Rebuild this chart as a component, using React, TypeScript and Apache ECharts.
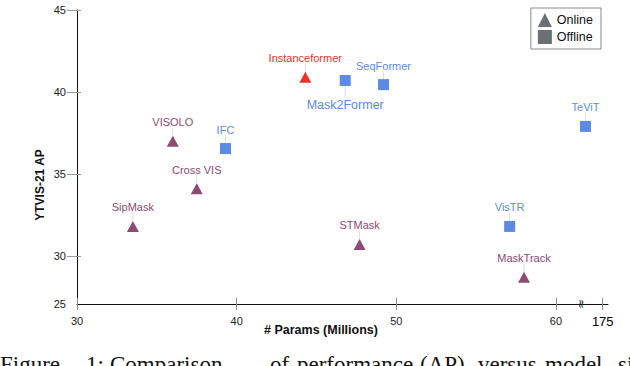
import React, { useEffect, useRef } from "react";
import * as echarts from "echarts";

// Online (triangle) methods
const onlineNames = ["Instanceformer", "VISOLO", "Cross VIS", "SipMask", "STMask", "MaskTrack"];
const onlineParams = [44.3, 36.0, 37.5, 33.5, 47.7, 58.0];
const onlineAP = [40.9, 37.0, 34.1, 31.8, 30.7, 28.7];

// Offline (square) methods
const offlineNames = ["IFC", "Mask2Former", "SeqFormer", "VisTR", "TeViT"];
const offlineParams = [39.3, 46.8, 49.2, 57.1, 61.85];
const offlineAP = [36.55, 40.7, 40.45, 31.8, 37.9];

// Axis ticks (axes are broken: "25" on y and "175" on x are drawn at break positions)
const yTickValues = [30, 35, 40, 45];
const yAxisMin = 27.07;
const yAxisMax = 45;
const yBreakLabel = "25";
const xTickValues = [30, 40, 50, 60];
const xBreakValue = 62.93;
const xBreakLabel = "175";
const xAxisMin = 30;
const xAxisMax = 63.26;

const legendNames = ["Online", "Offline"];
const captionWords = ["Figure", "1:", "Comparison", "of", "performance", "(AP)", "versus", "model", "si"];
const captionX = [0, 86, 110, 270, 297, 420, 478, 545, 618];

const RED = "#e8332b";
const PURPLE = "#8e4a74";
const BLUE = "#5b8be2";
const GRAY = "#6b7077";
const LABEL_FONT = "'Liberation Sans', Arial, sans-serif";

export default function App() {
  const ref = useRef<HTMLDivElement>(null);

  useEffect(() => {
    if (!ref.current) return;
    const chart = echarts.init(ref.current, null, { renderer: "svg" });

    const onlineData = onlineNames.map((n, i) => ({
      name: n,
      value: [onlineParams[i], onlineAP[i]],
      itemStyle: { color: n === "Instanceformer" ? RED : PURPLE },
      label: { color: n === "Instanceformer" ? RED : PURPLE },
    }));
    const offlineData = offlineNames.map((n, i) => ({
      name: n,
      value: [offlineParams[i], offlineAP[i]],
      itemStyle: { color: BLUE },
      label:
        n === "Mask2Former"
          ? { color: BLUE, position: "bottom", fontSize: 12.5 }
          : { color: BLUE },
    }));

    const labelBase = {
      show: true,
      formatter: "{b}",
      position: "top",
      distance: 2,
      fontSize: 11,
      fontFamily: LABEL_FONT,
    };
    const labelLine = { show: true, lineStyle: { color: "#dedede", width: 1 } };

    const allXTicks = [...xTickValues, xBreakValue];
    const allYLabels = [yAxisMin, ...yTickValues];

    const option: any = {
      animation: false,
      backgroundColor: "#ffffff",
      grid: { left: 77, right: 22, top: 10, bottom: 62, containLabel: false },
      legend: {
        data: [
          { name: legendNames[0], icon: "triangle" },
          { name: legendNames[1], icon: "rect" },
        ],
        orient: "vertical",
        right: 29,
        top: 8,
        padding: [5, 8, 5, 7],
        itemWidth: 14,
        itemHeight: 14,
        itemGap: 3,
        borderColor: "#8a8a8a",
        borderWidth: 1,
        textStyle: { fontSize: 12.5, color: "#111", fontFamily: LABEL_FONT },
      },
      xAxis: [
        {
          type: "value",
          min: xAxisMin,
          max: xAxisMax,
          position: "bottom",
          splitLine: { show: false },
          axisLine: { show: true, lineStyle: { color: "#111", width: 1 } },
          axisTick: {
            show: true,
            customValues: allXTicks,
            length: 6,
            lineStyle: { color: "#888" },
          },
          axisLabel: {
            customValues: allXTicks,
            margin: 11,
            fontSize: 11,
            color: "#222",
            fontFamily: LABEL_FONT,
            formatter: (v: number) =>
              Math.abs(v - xBreakValue) < 0.01 ? "{big|" + xBreakLabel + "}" : String(v),
            rich: {
              big: { fontSize: 13, color: "#000", fontFamily: LABEL_FONT, fontWeight: 500 },
            },
          },
        },
        {
          type: "value",
          min: xAxisMin,
          max: xAxisMax,
          position: "bottom",
          splitLine: { show: false },
          axisLine: { show: false },
          axisLabel: { show: false },
          axisTick: {
            show: true,
            inside: true,
            customValues: allXTicks,
            length: 6,
            lineStyle: { color: "#888" },
          },
        },
      ],
      yAxis: [
        {
          type: "value",
          min: yAxisMin,
          max: yAxisMax,
          position: "left",
          splitLine: { show: false },
          axisLine: { show: true, lineStyle: { color: "#111", width: 1 } },
          axisTick: {
            show: true,
            customValues: yTickValues,
            length: 10,
            lineStyle: { color: "#999" },
          },
          axisLabel: {
            customValues: allYLabels,
            margin: 11,
            fontSize: 11,
            color: "#222",
            fontFamily: LABEL_FONT,
            formatter: (v: number) =>
              Math.abs(v - yAxisMin) < 0.01 ? yBreakLabel : String(v),
          },
        },
        {
          type: "value",
          min: yAxisMin,
          max: yAxisMax,
          position: "left",
          splitLine: { show: false },
          axisLine: { show: false },
          axisLabel: { show: false },
          axisTick: {
            show: true,
            inside: true,
            customValues: yTickValues,
            length: 4,
            lineStyle: { color: "#999" },
          },
        },
      ],
      series: [
        {
          name: legendNames[0],
          type: "scatter",
          symbol: "triangle",
          symbolSize: [12, 11],
          itemStyle: { color: GRAY, opacity: 1 },
          label: labelBase,
          labelLine,
          labelLayout: () => ({ dy: -6 }),
          data: onlineData,
          z: 3,
        },
        {
          name: legendNames[1],
          type: "scatter",
          symbol: "rect",
          symbolSize: 11,
          itemStyle: { color: GRAY, opacity: 1 },
          label: labelBase,
          labelLine,
          labelLayout: (p: any) => ({ dy: p.labelRect.y > p.rect.y ? 10 : -6 }),
          data: offlineData,
          z: 3,
        },
      ],
      graphic: [
        {
          type: "text",
          x: 40,
          y: 185,
          rotation: Math.PI / 2,
          style: {
            text: "YTVIS-21 AP",
            fontSize: 12,
            fontWeight: "bold",
            fontFamily: LABEL_FONT,
            fill: "#111",
            align: "center",
            verticalAlign: "middle",
          },
        },
        {
          type: "text",
          x: 321,
          y: 330,
          style: {
            text: "# Params (Millions)",
            fontSize: 12.5,
            fontWeight: "bold",
            fontFamily: LABEL_FONT,
            fill: "#111",
            align: "center",
            verticalAlign: "middle",
          },
        },
        {
          type: "text",
          x: 581,
          y: 304,
          rotation: Math.PI / 2,
          style: {
            text: "≈",
            fontSize: 12,
            fontFamily: "DejaVu Sans",
            fill: "#222",
            align: "center",
            verticalAlign: "middle",
          },
        },
        ...captionWords.map((w, i) => ({
          type: "text",
          x: captionX[i],
          y: 364,
          style: {
            text: w,
            fontSize: 23,
            fontFamily: "'Liberation Serif', 'Times New Roman', serif",
            fill: "#111",
            align: "left",
            verticalAlign: "middle",
          },
        })),
      ],
    };

    chart.setOption(option);
    return () => chart.dispose();
  }, []);

  return (
    <div
      ref={ref}
      style={{ position: "absolute", left: 0, top: 0, width: 630, height: 366 }}
    />
  );
}
